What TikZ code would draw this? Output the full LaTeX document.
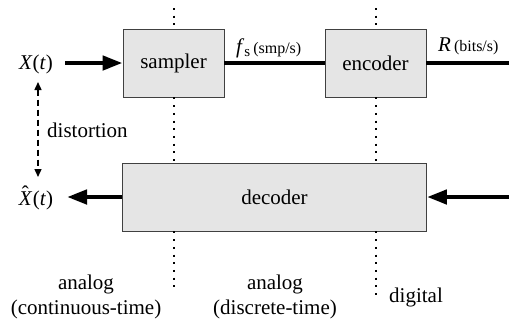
\documentclass[tikz,border=0pt]{standalone}
\usepackage{fontspec}
\setmainfont{Liberation Serif}
\usetikzlibrary{arrows.meta}
\newcommand{\hatX}{\textit{X}\kern-10.5pt\raisebox{4.5pt}{ˆ}\kern3.8pt}
\begin{document}
\begin{tikzpicture}[x=1pt,y=-1pt,
  blockbox/.style={draw=black!75,line width=0.9pt,fill=black!10,minimum width=101pt,inner sep=0pt,font=\fontsize{21}{25}\selectfont},
  lbl/.style={inner sep=0pt,font=\fontsize{21}{25}\selectfont},
  thick line/.style={line width=4.5pt},
  bigarrow/.style={line width=4.5pt,-{Triangle[length=20pt,width=14pt]}},
  dotline/.style={line width=2pt,dash pattern=on 2pt off 5.7pt,black},
  dasharrow/.style={line width=1.4pt,dash pattern=on 6pt off 4pt,{Triangle[length=8pt,width=7pt]}-{Triangle[length=8pt,width=7pt]}}]
\useasboundingbox (0,0) rectangle (509,322);
% blocks
\node[blockbox,minimum height=68pt] (samp) at (173.5,63) {sampler};
\node[blockbox,minimum height=68pt] (enc) at (375.5,63) {encoder};
\node[blockbox,minimum width=304pt,minimum height=68pt] (dec) at (274.5,197) {decoder};
% dotted separators
\coordinate (d1t) at (173.5,8);
\coordinate (d1b) at (173.5,289);
\coordinate (d2t) at (375.5,8);
\coordinate (d2b) at (375.5,299);
\draw[dotline] (d1t) -- (samp.north);
\draw[dotline] (samp.south) -- (samp.south |- dec.north);
\draw[dotline] (samp.south |- dec.south) -- (d1b);
\draw[dotline] (d2t) -- (enc.north);
\draw[dotline] (enc.south) -- (enc.south |- dec.north);
\draw[dotline] (enc.south |- dec.south) -- (d2b);
% signals
\node[lbl] (x) at (36,64) {\textit{X}(\textit{t})};
\node[lbl] (xh) at (36,198) {\hatX(\textit{t})};
\coordinate (xs) at (65,63);
\draw[bigarrow] (xs) -- (samp.west);
\draw[thick line] (samp.east) -- (enc.west);
\coordinate (rend) at (509,63);
\draw[thick line] (enc.east) -- (rend);
\coordinate (din) at (509,197);
\draw[bigarrow] (din) -- (dec.east);
\coordinate (xout) at (67,197);
\draw[bigarrow] (dec.west) -- (xout);
% labels
\node[lbl,anchor=west] (fs) at (236,48) {\textit{f}\raisebox{-3.5pt}{\fontsize{15}{18}\selectfont s}\kern3pt{\fontsize{16}{19}\selectfont (smp/s)}};
\node[lbl,anchor=west] (R) at (438,46) {\textit{R}\kern3pt{\fontsize{16}{19}\selectfont (bits/s)}};
% distortion
\coordinate (dt) at (38,82);
\coordinate (db) at (38,177);
\draw[dasharrow] (dt) -- (db);
\node[lbl,anchor=west] (dist) at (47,130) {distortion};
% bottom labels
\node[lbl,align=center] (a1) at (86,297) {analog\\(continuous-time)};
\node[lbl,align=center] (a2) at (275,297) {analog\\(discrete-time)};
\node[lbl] (dig) at (416,297) {digital};
\end{tikzpicture}
\end{document}
